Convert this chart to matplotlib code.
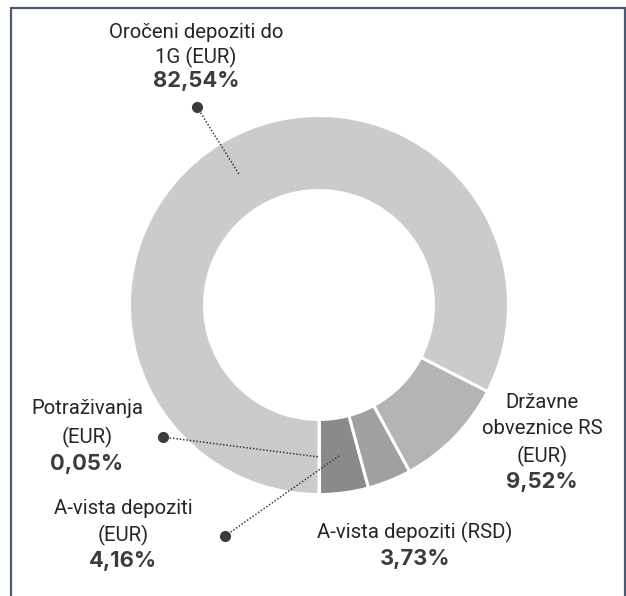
import numpy as np
import matplotlib
matplotlib.use('agg')
import matplotlib.pyplot as plt

# data (shares in %)
labels = ['Potraživanja\n(EUR)', 'A-vista depoziti\n(EUR)', 'A-vista depoziti (RSD)',
          'Državne\nobveznice RS\n(EUR)', 'Oročeni depoziti do\n1G (EUR)']
values = [0.05, 4.16, 3.73, 9.52, 82.54]
pct_text = ['0,05%', '4,16%', '3,73%', '9,52%', '82,54%']
colors = ['#6e6e6e', '#8a8a8a', '#a0a0a0', '#b4b4b4', '#cbcbcb']

W, H = 626, 596
plt.rcParams['font.family'] = ['Roboto', 'DejaVu Sans']

fig = plt.figure(figsize=(W / 100, H / 100), dpi=100)
ax = fig.add_axes([0, 0, 1, 1])

cx, cy = 319, H - 305      # donut centre (pixel coords, y up)
r_out, r_in = 188, 116
lw_px = 3
ax.pie(values, colors=colors, startangle=-90, counterclock=True,
       radius=r_out + lw_px / 2, center=(cx, cy),
       wedgeprops=dict(width=r_out - r_in + lw_px, edgecolor='white',
                       linewidth=lw_px * 0.72))

ax.set_xlim(0, W)
ax.set_ylim(0, H)
ax.set_aspect('equal')
ax.axis('off')

# mid-angle of each wedge, used for leader-line ends
cum = np.cumsum([0] + values)
mid_ang = np.deg2rad(-90 + (cum[:-1] + np.array(values) / 2) * 3.6)
r_mid = (r_out + r_in) / 2

def px(x, y):
    return x, H - y

# label blocks: (index, text x, first line y, line step, dot position or None)
blocks = [
    (4, 196, 32, 25, (197, 107)),
    (0, 87, 409, 28, (163, 437)),
    (1, 123, 508, 27, (225, 536)),
    (3, 542, 402, 27, None),
    (2, 415, 532, 28, None),
]

for i, tx, ty, step, dot in blocks:
    lines = labels[i].split('\n')
    for k, ln in enumerate(lines):
        ax.text(*px(tx, ty + k * step), ln, ha='center', va='center',
                fontsize=14.7, color='#262626')
    ax.text(*px(tx, ty + len(lines) * step - 1), pct_text[i], ha='center',
            va='center', fontsize=15.8, fontweight='bold', color='#3c3c3c',
            family=['Inter', 'DejaVu Sans'])
    if dot is not None:
        ex = cx + r_mid * np.cos(mid_ang[i])
        ey = cy + r_mid * np.sin(mid_ang[i])
        dx, dy = px(*dot)
        ax.plot([dx, ex], [dy, ey], color='#3c3c3c', lw=1.1, ls=(0, (1, 1.2)))
        ax.plot(dx, dy, 'o', color='#3c3c3c', ms=7)

# outer frame
frame = plt.Rectangle((10.5, -5), W - 11.5, H - 7.5 + 5, fill=False,
                      edgecolor='#4b5a72', lw=1.6, transform=ax.transData,
                      clip_on=False)
ax.add_patch(frame)

fig.savefig('out.png', dpi=100)
